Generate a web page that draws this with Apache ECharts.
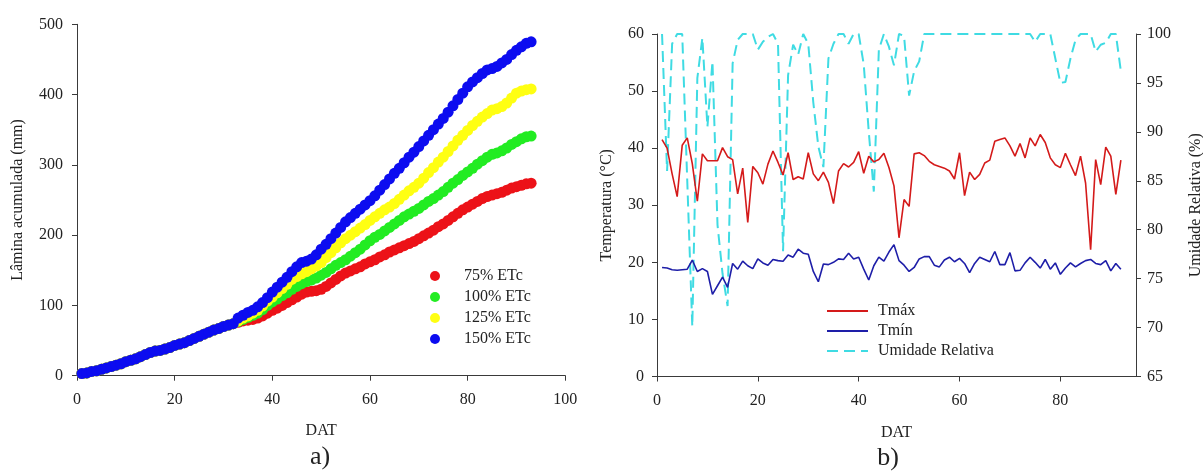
<!DOCTYPE html>
<html>
<head>
<meta charset="utf-8">
<script src="https://cdn.jsdelivr.net/npm/echarts@6/dist/echarts.min.js"></script>
<style>
  html, body { margin: 0; padding: 0; background: #fff; }
  #chart { width: 1203px; height: 475px; }
</style>
</head>
<body>
<div id="chart"></div>
<script>
// ---- a) accumulated irrigation depth (mm) per day after transplanting ----
// days 1..32: all treatments received the same depth
const sharedDepth = [
  3, 4, 6, 7, 9, 11, 13, 15, 17, 20,
  22, 24, 27, 30, 33, 35, 36, 38, 40, 43,
  45, 47, 50, 53, 56, 59, 62, 65, 67, 70,
  72, 74
];
// days 33..93 per treatment
const etc75 = [
  76, 78, 79, 80, 82, 85, 89, 93, 96, 100,
  104, 108, 112, 116, 119, 120, 121, 123, 127, 132,
  137, 142, 146, 149, 152, 155, 159, 162, 165, 169,
  172, 176, 179, 182, 185, 188, 191, 195, 199, 203,
  207, 212, 216, 221, 226, 231, 236, 240, 244, 248,
  252, 255, 257, 259, 261, 264, 267, 269, 271, 273,
  274
];
const etc100 = [
  77, 80, 83, 86, 89, 94, 100, 105, 109, 114,
  118, 123, 127, 131, 134, 136, 139, 143, 147, 152,
  157, 161, 165, 170, 175, 180, 186, 192, 197, 201,
  206, 211, 216, 221, 226, 230, 234, 238, 243, 248,
  252, 257, 262, 268, 274, 279, 285, 290, 295, 301,
  306, 311, 315, 317, 320, 324, 329, 333, 337, 340,
  341
];
const etc125 = [
  78, 82, 85, 89, 93, 99, 106, 112, 118, 124,
  130, 137, 141, 145, 148, 152, 156, 161, 168, 175,
  182, 189, 195, 200, 205, 210, 215, 221, 226, 231,
  236, 240, 245, 251, 257, 263, 268, 274, 281, 289,
  296, 304, 311, 319, 327, 335, 342, 349, 356, 362,
  368, 373, 378, 380, 383, 388, 395, 402, 405, 407,
  408
];
const etc150 = [
  82, 86, 90, 93, 98, 104, 111, 119, 126, 133,
  140, 148, 155, 161, 163, 166, 172, 180, 187, 195,
  203, 211, 219, 225, 231, 237, 243, 249, 256, 264,
  272, 280, 288, 295, 303, 311, 318, 326, 334, 342,
  350, 358, 366, 375, 384, 393, 402, 411, 418, 424,
  430, 435, 437, 440, 445, 450, 457, 463, 468, 473,
  475
];
const treatmentNames = ['75% ETc', '100% ETc', '125% ETc', '150% ETc'];

// ---- b) daily weather, days 1..92 ----
const tMax = [
  41.5, 40, 35.5, 31.5, 40.5, 41.8, 37.3, 30.7, 39, 37.8,
  37.8, 37.8, 40.1, 38.5, 38, 32, 36.5, 27, 36.8, 35.7,
  33.7, 37.2, 39.5, 37.5, 35.3, 39.2, 34.5, 35, 34.6, 39.2,
  35.5, 34.3, 35.8, 34, 30.3, 36, 37.3, 36.7, 37.5, 39.4,
  35.6, 38.6, 37.6, 38, 39.1, 36.6, 33.4, 24.3, 31, 29.8,
  39, 39.2, 38.7, 37.7, 37.1, 36.8, 36.5, 36, 34.6, 39.2,
  31.7, 35.8, 34.5, 35.4, 37.4, 37.9, 41.2, 41.5, 41.8, 40.4,
  38.6, 40.8, 38.3, 41.8, 40.4, 42.4, 41, 38.3, 37.1, 36.6,
  39.1, 37.1, 35.2, 38.6, 33.9, 22.2, 38, 33.6, 40.2, 38.6,
  31.9, 37.9
];
const tMin = [
  19.1, 19, 18.7, 18.6, 18.7, 18.8, 20.4, 18.4, 18.9, 18.4,
  14.4, 15.9, 17.4, 15.6, 19.8, 18.8, 20.2, 19.4, 18.9, 20.6,
  19.9, 19.5, 20.5, 20.3, 20.2, 21.3, 20.9, 22.3, 21.6, 21.4,
  18.4, 16.6, 19.7, 19.6, 20, 20.6, 20.5, 21.6, 20.6, 20.9,
  18.8, 16.9, 19.4, 20.9, 20.2, 21.8, 23.1, 20.3, 19.5, 18.4,
  19.1, 20.6, 21, 21, 19.5, 19.2, 20.4, 20.9, 20.1, 20.7,
  19.8, 18.2, 19.8, 20.9, 20.5, 20.1, 21.9, 19.6, 19.6, 21.7,
  18.5, 18.6, 19.9, 20.9, 20, 19, 20.5, 18.8, 19.9, 17.9,
  19, 19.9, 19.2, 19.8, 20.3, 20.5, 19.8, 19.6, 20.3, 18.5,
  19.8, 18.8
];
const relHumidity = [
  100, 86, 99, 100, 100, 85, 70.1, 95.5, 99.6, 90.5,
  97.2, 80.5, 75.5, 72.2, 97, 99.4, 100, 100, 100, 98.4,
  99.2, 99.7, 100, 99, 77.8, 95.8, 98.9, 97.9, 100, 99,
  93, 88.5, 86.4, 97.5, 99, 100, 100, 99, 100, 100,
  96.9, 90, 83.9, 98.4, 100, 98.7, 96.8, 100, 99.8, 93.7,
  96.2, 97.2, 100, 100, 100, 100, 100, 100, 100, 100,
  100, 100, 100, 100, 100, 100, 100, 100, 100, 100,
  100, 100, 100, 100, 99.2, 100, 100, 100, 97.5, 95,
  95.1, 97.5, 99.4, 100, 100, 100, 98.2, 98.9, 99.1, 100,
  100, 96.2
];
const weatherNames = ['Tmáx', 'Tmín', 'Umidade Relativa'];

// ---- helpers ----
function toPoints(values, firstDay) {
  return values.map((v, i) => [firstDay + i, v]);
}
const depthSeries = [etc75, etc100, etc125, etc150].map(tail =>
  toPoints(sharedDepth.concat(tail), 1)
);

const FONT = 'Liberation Serif, Times New Roman, serif';
const INK = '#222';
const AXIS = '#3a3a3a';

function axisCommon(extra) {
  return Object.assign({
    axisLine: { show: true, onZero: false, lineStyle: { color: AXIS, width: 1 } },
    axisTick: { show: true, inside: false, length: 5, lineStyle: { color: AXIS, width: 1 } },
    axisLabel: { color: INK, fontFamily: FONT, fontSize: 16, margin: 14 },
    splitLine: { show: false },
    nameTextStyle: { color: INK, fontFamily: FONT, fontSize: 16 }
  }, extra);
}

const chart = echarts.init(document.getElementById('chart'), null, { renderer: 'canvas' });

const option = {
  animation: false,
  backgroundColor: '#fff',
  grid: [
    { left: 77, top: 24.3, width: 488.3, height: 351.4, containLabel: false, outerBoundsMode: 'none' },
    { left: 657, top: 34, width: 479, height: 342.5, containLabel: false, outerBoundsMode: 'none' }
  ],
  xAxis: [
    axisCommon({
      gridIndex: 0, type: 'value', min: 0, max: 100, interval: 20,
      name: 'DAT', nameLocation: 'middle', nameGap: 47,
      axisLabel: { color: INK, fontFamily: FONT, fontSize: 16, margin: 16 }
    }),
    axisCommon({
      gridIndex: 1, type: 'value', min: 0, max: 95, interval: 20,
      name: 'DAT', nameLocation: 'middle', nameGap: 48,
      axisTick: { show: true, length: 5, customValues: [0, 20, 40, 60, 80],
                  lineStyle: { color: AXIS, width: 1 } },
      axisLabel: { color: INK, fontFamily: FONT, fontSize: 16, margin: 16,
                   customValues: [0, 20, 40, 60, 80] }
    })
  ],
  yAxis: [
    axisCommon({
      gridIndex: 0, type: 'value', min: 0, max: 500, interval: 100,
      name: 'Lâmina acumulada (mm)', nameLocation: 'middle', nameGap: 51, nameRotate: 90
    }),
    axisCommon({
      gridIndex: 1, type: 'value', min: 0, max: 60, interval: 10,
      name: 'Temperatura (°C)', nameLocation: 'middle', nameGap: 42, nameRotate: 90,
      axisLabel: { color: INK, fontFamily: FONT, fontSize: 16, margin: 13 }
    }),
    axisCommon({
      gridIndex: 1, type: 'value', position: 'right', min: 65, max: 100, interval: 5,
      name: 'Umidade Relativa (%)', nameLocation: 'middle', nameGap: 52, nameRotate: 90,
      axisLabel: { color: INK, fontFamily: FONT, fontSize: 16, margin: 11 }
    })
  ],
  legend: [
    {
      orient: 'vertical', left: 425, top: 263,
      itemWidth: 10, itemHeight: 10, itemGap: 5, icon: 'circle',
      data: treatmentNames,
      textStyle: { color: INK, fontFamily: FONT, fontSize: 16, lineHeight: 16, padding: [0, 0, 0, 19] }
    },
    {
      orient: 'vertical', left: 821, top: 298,
      itemWidth: 41, itemHeight: 14, itemGap: 4,
      data: weatherNames,
      itemStyle: { opacity: 0 },
      textStyle: { color: INK, fontFamily: FONT, fontSize: 16, lineHeight: 16, padding: [0, 0, 0, 5] }
    }
  ],
  graphic: [
    { type: 'text', x: 320, y: 457, style: { text: 'a)', fill: INK, font: '26px ' + FONT, align: 'center', verticalAlign: 'middle' } },
    { type: 'text', x: 888, y: 458, style: { text: 'b)', fill: INK, font: '26px ' + FONT, align: 'center', verticalAlign: 'middle' } }
  ],
  series: [
    { name: treatmentNames[0], type: 'scatter', xAxisIndex: 0, yAxisIndex: 0, data: depthSeries[0],
      symbol: 'circle', symbolSize: 11, itemStyle: { color: '#ec1218', opacity: 1 } },
    { name: treatmentNames[1], type: 'scatter', xAxisIndex: 0, yAxisIndex: 0, data: depthSeries[1],
      symbol: 'circle', symbolSize: 11, itemStyle: { color: '#22ec22', opacity: 1 } },
    { name: treatmentNames[2], type: 'scatter', xAxisIndex: 0, yAxisIndex: 0, data: depthSeries[2],
      symbol: 'circle', symbolSize: 11, itemStyle: { color: '#ffff12', opacity: 1 } },
    { name: treatmentNames[3], type: 'scatter', xAxisIndex: 0, yAxisIndex: 0, data: depthSeries[3],
      symbol: 'circle', symbolSize: 11, itemStyle: { color: '#0c0cf0', opacity: 1 } },

    { name: weatherNames[2], type: 'line', xAxisIndex: 1, yAxisIndex: 2, data: toPoints(relHumidity, 1),
      symbol: 'none', lineStyle: { color: '#3fdbe3', width: 2, type: [11, 6] }, itemStyle: { color: '#3fdbe3' } },
    { name: weatherNames[0], type: 'line', xAxisIndex: 1, yAxisIndex: 1, data: toPoints(tMax, 1),
      symbol: 'none', lineStyle: { color: '#d41a1a', width: 1.6 }, itemStyle: { color: '#d41a1a' } },
    { name: weatherNames[1], type: 'line', xAxisIndex: 1, yAxisIndex: 1, data: toPoints(tMin, 1),
      symbol: 'none', lineStyle: { color: '#1e1ea8', width: 1.6 }, itemStyle: { color: '#1e1ea8' } }
  ]
};

chart.setOption(option);
</script>
</body>
</html>
